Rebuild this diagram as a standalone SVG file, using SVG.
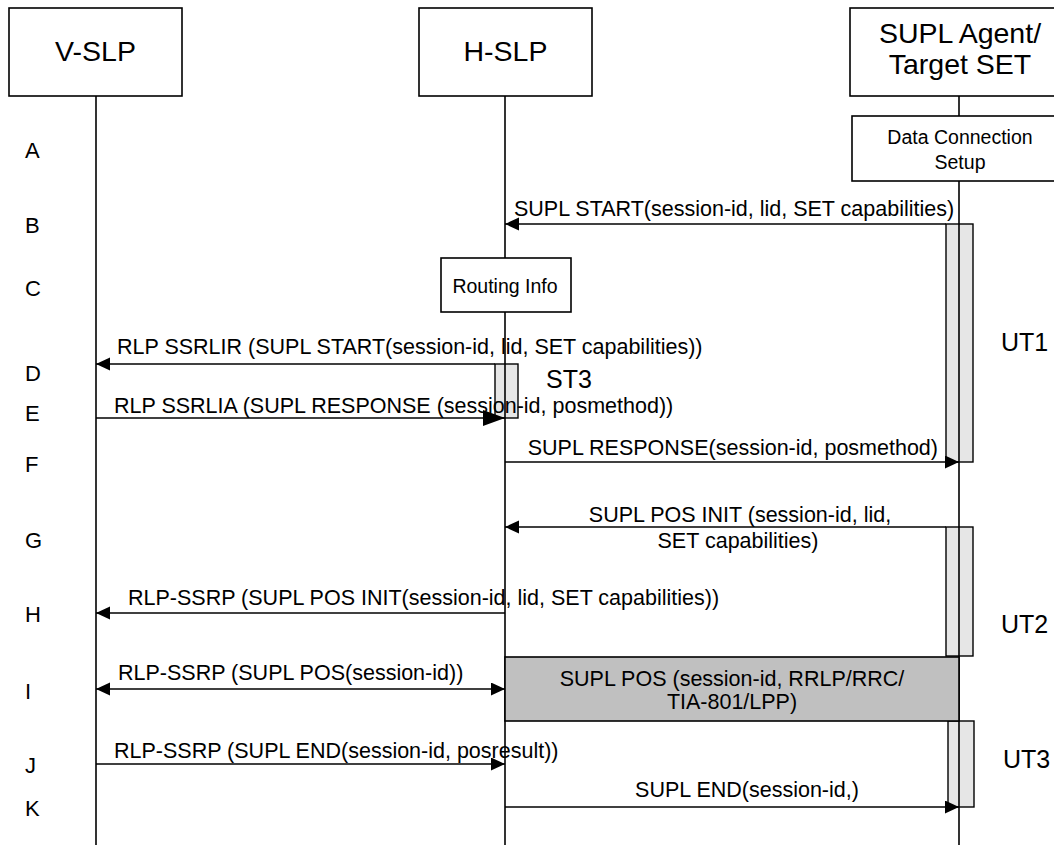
<svg xmlns="http://www.w3.org/2000/svg" width="1054" height="845" viewBox="0 0 1054 845">
<style>
  .box{fill:#fff;stroke:#000;stroke-width:1.6}
  .bar{fill:#e6e6e6;stroke:#000;stroke-width:1.4}
  .life{stroke:#000;stroke-width:1.6;fill:none}
  .msg{stroke:#000;stroke-width:1.5;fill:none}
  text{font-family:"Liberation Sans",Arial,sans-serif;fill:#000}
  .hdr{font-size:28.5px}
  .lbl{font-size:21.5px}
  .row{font-size:22px}
  .sm{font-size:19.5px}
  .tm{font-size:25px}
</style>
<defs>
  <marker id="ah" markerUnits="userSpaceOnUse" markerWidth="14" markerHeight="14" refX="14" refY="6.5" orient="auto-start-reverse">
    <path d="M0,0 L14,6.5 L0,13 z" fill="#000"/>
  </marker>
  <marker id="ahb" markerUnits="userSpaceOnUse" markerWidth="23" markerHeight="17" refX="22" refY="8" orient="auto">
    <path d="M0,0 L22,8 L0,16 z" fill="#000"/>
  </marker>
</defs>

<g id="row-labels">
  <text class="row" x="25" y="158">A</text>
  <text class="row" x="25" y="233">B</text>
  <text class="row" x="25" y="296">C</text>
  <text class="row" x="25" y="381">D</text>
  <text class="row" x="25" y="421">E</text>
  <text class="row" x="25" y="472">F</text>
  <text class="row" x="25" y="548">G</text>
  <text class="row" x="25" y="622">H</text>
  <text class="row" x="25" y="699">I</text>
  <text class="row" x="25" y="773">J</text>
  <text class="row" x="25" y="816">K</text>
</g>

<g id="activations">
  <rect id="ut1-bar" class="bar" x="946" y="224" width="27" height="238"/>
  <rect id="st3-bar" class="bar" x="495" y="364" width="23" height="54"/>
  <rect id="ut2-bar" class="bar" x="946" y="527" width="27" height="129"/>
  <rect id="ut3-bar" class="bar" x="948" y="721" width="26" height="86"/>
</g>

<g id="lifelines">
  <line class="life" x1="96" y1="96" x2="96" y2="845"/>
  <line class="life" x1="505" y1="96" x2="505" y2="845"/>
  <line class="life" x1="959" y1="96" x2="959" y2="116"/>
  <line class="life" x1="959" y1="181" x2="959" y2="845"/>
</g>

<g id="v-slp">
  <rect class="box" x="9" y="8" width="173" height="88"/>
  <text class="hdr" x="95.5" y="61" text-anchor="middle">V-SLP</text>
</g>
<g id="h-slp">
  <rect class="box" x="419" y="8" width="173" height="88"/>
  <text class="hdr" x="505.5" y="61" text-anchor="middle">H-SLP</text>
</g>
<g id="supl-agent">
  <rect class="box" x="850" y="8" width="220" height="88"/>
  <text class="hdr" x="960" y="43" text-anchor="middle">SUPL Agent/</text>
  <text class="hdr" x="960" y="74" text-anchor="middle">Target SET</text>
</g>
<g id="data-connection">
  <rect class="box" x="852" y="116" width="216" height="65"/>
  <text class="sm" x="960" y="144" text-anchor="middle">Data Connection</text>
  <text class="sm" x="960" y="169" text-anchor="middle">Setup</text>
</g>
<g id="routing-info">
  <rect class="box" x="441" y="258" width="130" height="54"/>
  <text class="sm" x="505" y="293" text-anchor="middle">Routing Info</text>
</g>
<g id="supl-pos">
  <rect x="505" y="657" width="454" height="64" fill="#c0c0c0" stroke="#000" stroke-width="1.6"/>
  <text class="lbl" x="732" y="686" text-anchor="middle">SUPL POS (session-id, RRLP/RRC/</text>
  <text class="lbl" x="732" y="709" text-anchor="middle">TIA-801/LPP)</text>
</g>

<g id="timers">
  <text class="tm" x="546" y="388">ST3</text>
  <text class="tm" x="1001" y="351">UT1</text>
  <text class="tm" x="1001" y="633">UT2</text>
  <text class="tm" x="1003" y="768">UT3</text>
</g>

<g id="connectors">
  <line class="msg" x1="946" y1="224" x2="505" y2="224" marker-end="url(#ah)"/>
  <line class="msg" x1="495" y1="364" x2="96" y2="364" marker-end="url(#ah)"/>
  <line class="msg" x1="96" y1="418" x2="505" y2="418" marker-end="url(#ahb)"/>
  <line class="msg" x1="505" y1="462" x2="959" y2="462" marker-end="url(#ah)"/>
  <line class="msg" x1="946" y1="527" x2="505" y2="527" marker-end="url(#ah)"/>
  <line class="msg" x1="505" y1="613" x2="96" y2="613" marker-end="url(#ah)"/>
  <line class="msg" x1="96" y1="689" x2="505" y2="689" marker-start="url(#ah)" marker-end="url(#ah)"/>
  <line class="msg" x1="96" y1="764" x2="505" y2="764" marker-end="url(#ah)"/>
  <line class="msg" x1="505" y1="807" x2="959" y2="807" marker-end="url(#ah)"/>
</g>

<g id="connector-labels">
  <text class="lbl" x="514" y="216">SUPL START(session-id, lid, SET capabilities)</text>
  <text class="lbl" x="117" y="354">RLP SSRLIR (SUPL START(session-id, lid, SET capabilities))</text>
  <text class="lbl" x="114" y="413">RLP SSRLIA (SUPL RESPONSE (session-id, posmethod))</text>
  <text class="lbl" x="938" y="455" text-anchor="end">SUPL RESPONSE(session-id, posmethod)</text>
  <text class="lbl" x="740" y="522" text-anchor="middle">SUPL POS INIT (session-id, lid,</text>
  <text class="lbl" x="738" y="548" text-anchor="middle">SET capabilities)</text>
  <text class="lbl" x="128" y="605">RLP-SSRP (SUPL POS INIT(session-id, lid, SET capabilities))</text>
  <text class="lbl" x="118" y="680">RLP-SSRP (SUPL POS(session-id))</text>
  <text class="lbl" x="114" y="758">RLP-SSRP (SUPL END(session-id, posresult))</text>
  <text class="lbl" x="747" y="797" text-anchor="middle">SUPL END(session-id,)</text>
</g>
</svg>
